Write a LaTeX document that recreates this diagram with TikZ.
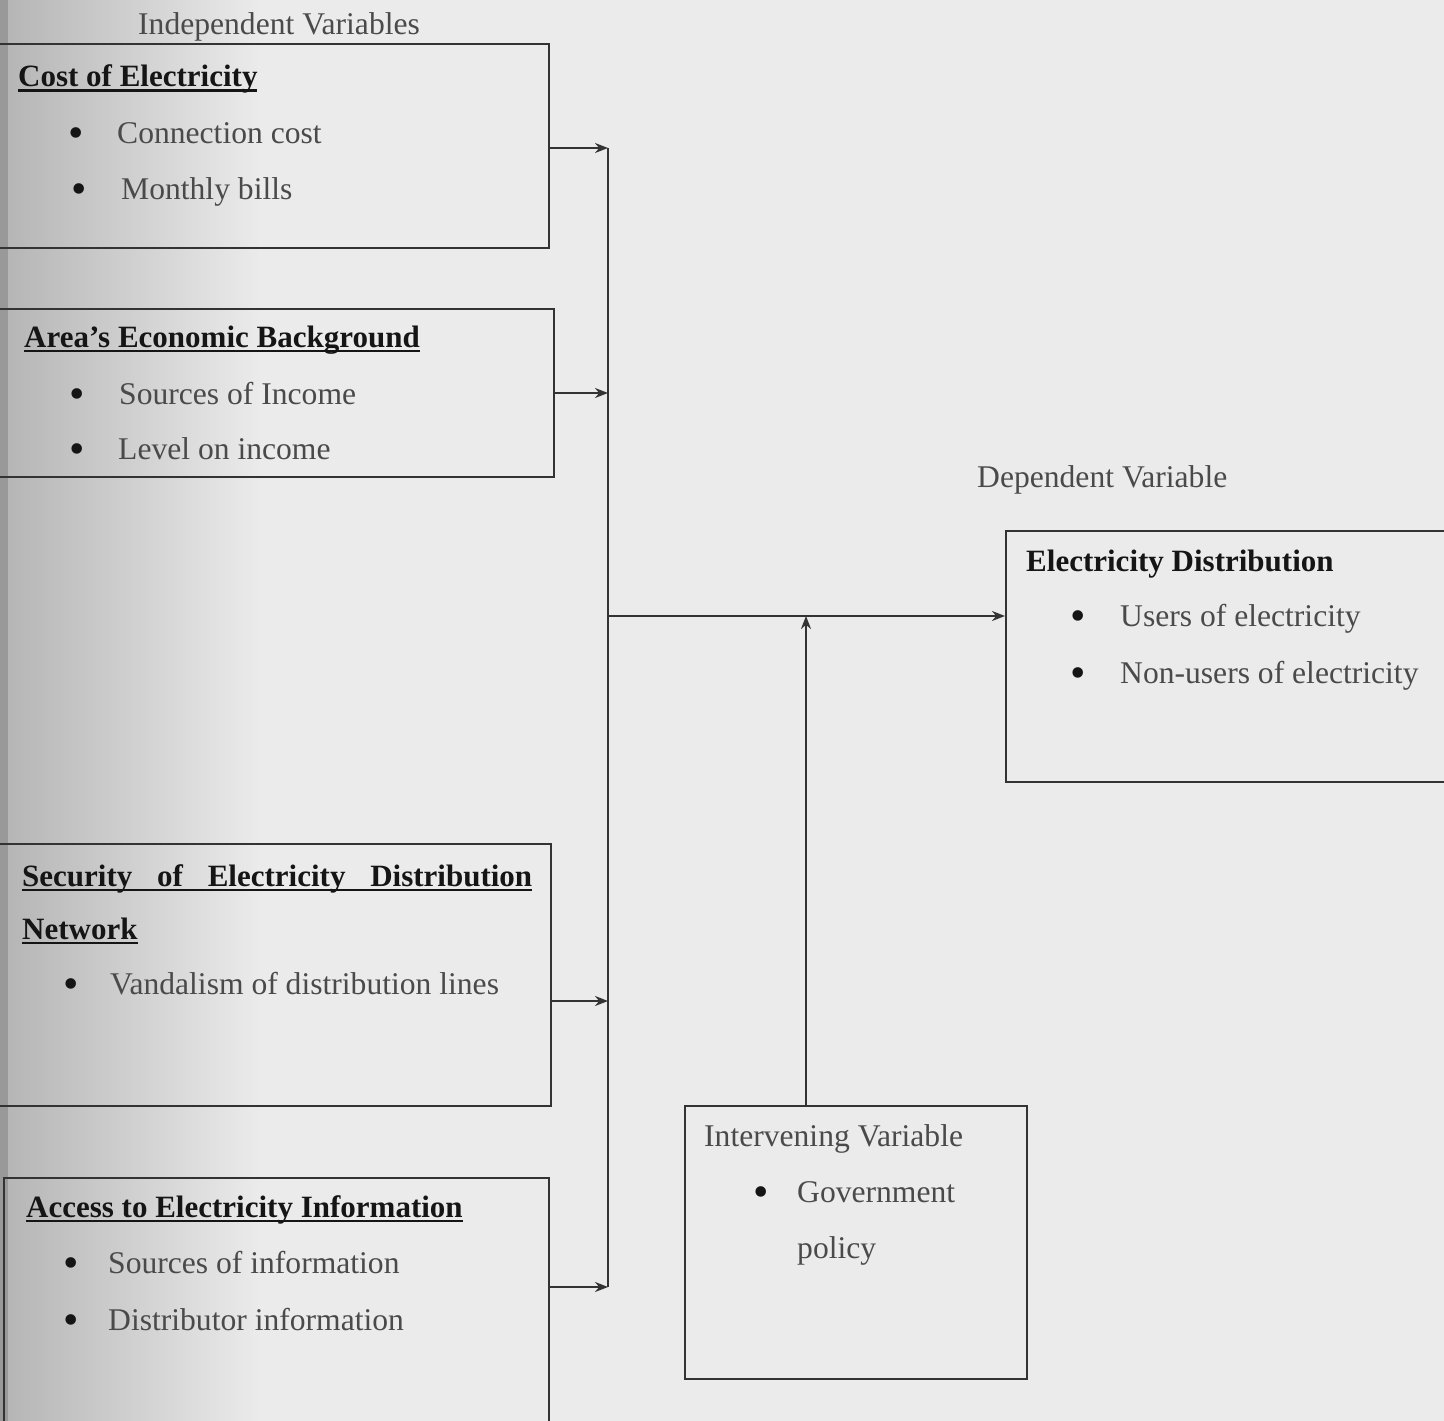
\documentclass[tikz,border=0pt]{standalone}
\usepackage{fontspec}
\setmainfont{Liberation Serif}
\usetikzlibrary{arrows.meta}
\definecolor{bgc}{HTML}{EBEBEB}
\definecolor{bgdark}{HTML}{B4B4B4}
\definecolor{linec}{HTML}{333333}
\definecolor{txtc}{HTML}{4A4A4A}
\definecolor{ttlc}{HTML}{151515}
\newsavebox\ulsave
\newcommand\ulbox[1]{\sbox\ulsave{#1}\rlap{\rule[-5pt]{\wd\ulsave}{2.5pt}}\usebox\ulsave}
\begin{document}
\begin{tikzpicture}[x=1pt,y=-1pt,
  box/.style={draw=linec, line width=2.2pt, inner sep=0pt, anchor=north west},
  txt/.style={anchor=base west, inner sep=0pt, font=\fontsize{31.6}{38}\selectfont, text=txtc},
  ttl/.style={anchor=base west, inner sep=0pt, font=\fontsize{31}{38}\selectfont\bfseries, text=ttlc},
  bul/.style={anchor=base west, inner sep=0pt, font=\fontsize{44}{48}\selectfont, text=ttlc},
  conn/.style={draw=linec, line width=2.2pt},
  arr/.style={conn, -{Stealth[length=13pt,width=10pt]}}]
\useasboundingbox (0,0) rectangle (1444,1421);
\clip (0,0) rectangle (1444,1421);
% background
\fill[bgc] (0,0) rectangle (1444,1421);
\shade[left color=bgdark, right color=bgc] (0,0) rectangle (260,1421);
\fill[black!40] (0,0) rectangle (8,1421);
% boxes
\node[box, minimum width=558pt, minimum height=204pt] (b1) at (-10,43) {};
\node[box, minimum width=563pt, minimum height=168pt] (b2) at (-10,308) {};
\node[box, minimum width=560pt, minimum height=262pt] (b3) at (-10,843) {};
\node[box, minimum width=545pt, minimum height=280pt] (b4) at (3,1177) {};
\node[box, minimum width=460pt, minimum height=251pt] (ed) at (1005,530) {};
\node[box, minimum width=342pt, minimum height=273pt] (iv) at (684,1105) {};
% junctions
\coordinate (j1) at (608,148);
\coordinate (j2) at (608,393);
\coordinate (j3) at (608,1001);
\coordinate (j4) at (608,1287);
\coordinate (jm) at (608,616);
\coordinate (ivtop) at (806,1105);
% connectors
\draw[conn] (j1) -- (j4);
\draw[arr] (b1.east |- j1) -- (j1);
\draw[arr] (b2.east |- j2) -- (j2);
\draw[arr] (b3.east |- j3) -- (j3);
\draw[arr] (b4.east |- j4) -- (j4);
\draw[arr] (jm) -- (jm -| ed.west);
\draw[arr] (ivtop) -- (ivtop |- jm);
% texts
\node[txt] (indep) at (138,35) {Independent Variables};
\node[ttl] (t1) at (18,87) {\ulbox{Cost of Electricity}};
\node[bul] (p1a) at (68,147) {•};
\node[txt] (s1a) at (117,143) {Connection cost};
\node[bul] (p1b) at (71,203) {•};
\node[txt] (s1b) at (121,199) {Monthly bills};
\node[ttl] (t2) at (24,347) {\ulbox{Area’s Economic Background}};
\node[bul] (p2a) at (69,408) {•};
\node[txt] (s2a) at (119,404) {Sources of Income};
\node[bul] (p2b) at (69,463) {•};
\node[txt] (s2b) at (118,459) {Level on income};
\node[ttl] (t3) at (22,886) {\ulbox{\hbox to 510pt{Security\hfill of\hfill Electricity\hfill Distribution}}};
\node[ttl] (t3b) at (22,939) {\ulbox{Network}};
\node[bul] (p3a) at (63,998) {•};
\node[txt] (s3a) at (110,994) {Vandalism of distribution lines};
\node[ttl] (t4) at (26,1217) {\ulbox{Access to Electricity Information}};
\node[bul] (p4a) at (63,1277) {•};
\node[txt] (s4a) at (108,1273) {Sources of information};
\node[bul] (p4b) at (63,1334) {•};
\node[txt] (s4b) at (108,1330) {Distributor information};
\node[txt] (dep) at (977,487) {Dependent Variable};
\node[ttl] (t5) at (1026,571) {Electricity Distribution};
\node[bul] (p5a) at (1070,630) {•};
\node[txt] (s5a) at (1120,626) {Users of electricity};
\node[bul] (p5b) at (1070,687) {•};
\node[txt] (s5b) at (1120,683) {Non-users of electricity};
\node[txt] (t6) at (704,1146) {Intervening Variable};
\node[bul] (p6a) at (753,1206) {•};
\node[txt] (s6a) at (797,1202) {Government};
\node[txt] (s6b) at (797,1258) {policy};
\end{tikzpicture}
\end{document}
